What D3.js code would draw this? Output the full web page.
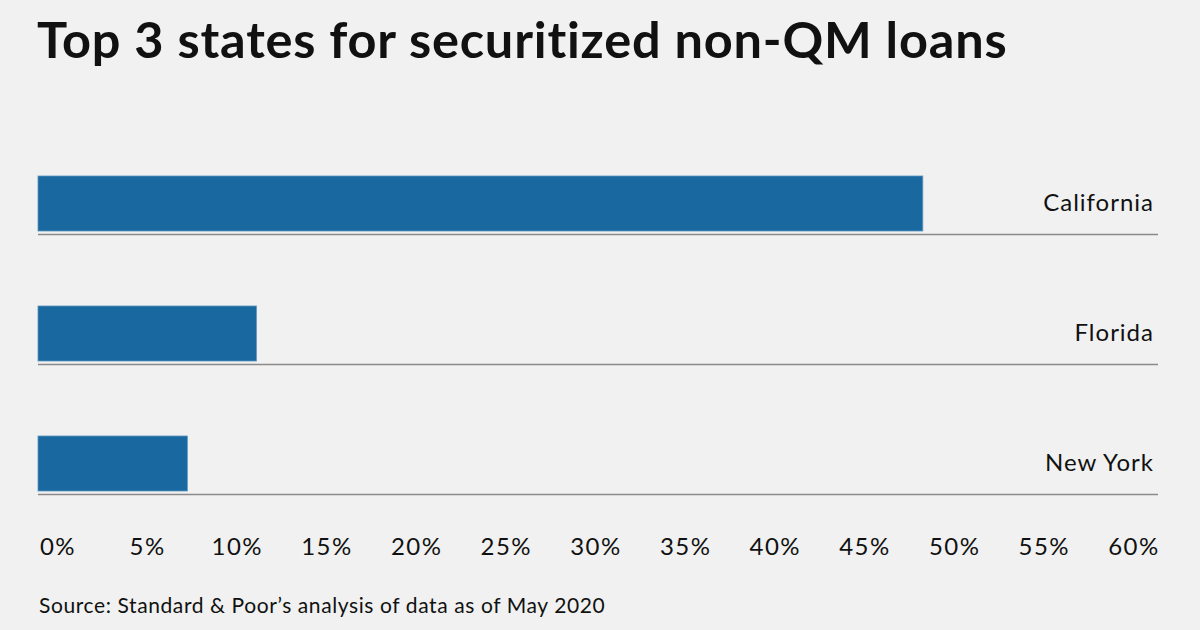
<!DOCTYPE html>
<html>
<head>
<meta charset="utf-8">
<script src="https://cdn.jsdelivr.net/npm/d3@7"></script>
<style>
  body { margin: 0; background: #f0f1f0; }
  svg { display: block; }
  text { font-family: Lato, "Noto Sans", sans-serif; fill: #111; }
</style>
</head>
<body>
<div id="chart"></div>
<script>
// data
var states = ["California", "Florida", "New York"];
var shares = [47.4, 11.7, 8.0];
var tickValues = [0, 5, 10, 15, 20, 25, 30, 35, 40, 45, 50, 55, 60];
var tickLabels = ["0%", "5%", "10%", "15%", "20%", "25%", "30%", "35%", "40%", "45%", "50%", "55%", "60%"];

var svgWidth = 1200;
var svgHeight = 630;

var svg = d3.select("#chart")
    .append("svg")
    .attr("width", svgWidth)
    .attr("height", svgHeight);

svg.append("rect")
    .attr("width", svgWidth)
    .attr("height", svgHeight)
    .attr("fill", "#f0f1f0");

// title, sized to fit the reference width
var title = svg.append("text")
    .attr("x", 37)
    .attr("y", 58)
    .attr("font-size", 50)
    .attr("font-weight", 700)
    .attr("letter-spacing", 0.8)
    .text("Top 3 states for securitized non-QM loans");
var tw = title.node().getComputedTextLength();
title.attr("font-size", 50 * 971 / tw);

var xScale = d3.scaleLinear()
    .domain([0, 60])
    .range([38, 1158]);

var yScale = d3.scaleBand()
    .domain(states)
    .range([176, 491])
    .paddingInner(75 / 130)
    .paddingOuter(0)
    .align(0);

var rows = svg.selectAll(".row")
    .data(states)
    .enter()
    .append("g")
    .attr("class", "row");

// gridline under each bar
rows.append("line")
    .attr("x1", xScale(0))
    .attr("x2", xScale(60))
    .attr("y1", d => yScale(d) + yScale.bandwidth() + 3.5)
    .attr("y2", d => yScale(d) + yScale.bandwidth() + 3.5)
    .attr("stroke", "#8a8a8a")
    .attr("stroke-width", 1.5);

rows.append("rect")
    .attr("x", xScale(0))
    .attr("y", d => yScale(d))
    .attr("width", (d, i) => xScale(shares[i]) - xScale(0))
    .attr("height", yScale.bandwidth())
    .attr("fill", "#1a68a0")
    .attr("stroke", "#5b94bd")
    .attr("stroke-width", 0.8);

rows.append("text")
    .attr("x", 1154)
    .attr("y", d => yScale(d) + yScale.bandwidth() / 2)
    .attr("dy", "0.33em")
    .attr("text-anchor", "end")
    .attr("font-size", 24)
    .attr("letter-spacing", 1)
    .text(d => d);

// tick labels are spread evenly across the width
var tickScale = d3.scaleLinear()
    .domain([0, 60])
    .range([58, 1134]);

svg.selectAll(".tick-label")
    .data(tickValues)
    .enter()
    .append("text")
    .attr("class", "tick-label")
    .attr("x", d => tickScale(d))
    .attr("y", 555)
    .attr("text-anchor", "middle")
    .attr("font-size", 24)
    .attr("letter-spacing", 1.5)
    .text((d, i) => tickLabels[i]);

svg.append("text")
    .attr("x", 39)
    .attr("y", 613)
    .attr("font-size", 21)
    .attr("letter-spacing", 0.6)
    .text("Source: Standard & Poor\u2019s analysis of data as of May 2020");
</script>
</body>
</html>
